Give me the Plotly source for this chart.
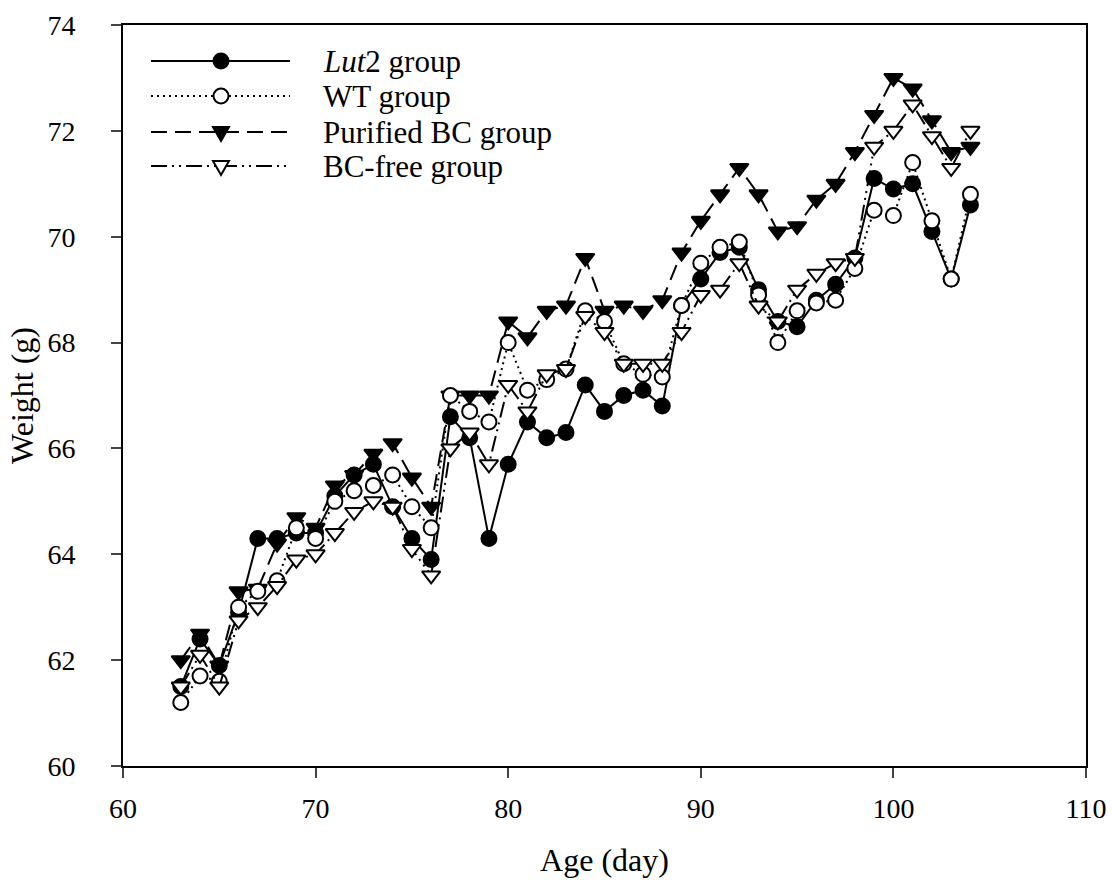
import plotly.graph_objects as go

days = list(range(63, 105))

lut2 = [61.5, 62.4, 61.9, 62.9, 64.3, 64.3, 64.4, 64.4, 65.1, 65.5, 65.7, 64.9, 64.3, 63.9,
        66.6, 66.2, 64.3, 65.7, 66.5, 66.2, 66.3, 67.2, 66.7, 67.0, 67.1, 66.8, 68.7, 69.2,
        69.7, 69.8, 69.0, 68.4, 68.3, 68.8, 69.1, 69.6, 71.1, 70.9, 71.0, 70.1, 69.2, 70.6]
wt = [61.2, 61.7, 61.6, 63.0, 63.3, 63.5, 64.5, 64.3, 65.0, 65.2, 65.3, 65.5, 64.9, 64.5,
      67.0, 66.7, 66.5, 68.0, 67.1, 67.3, 67.5, 68.6, 68.4, 67.6, 67.4, 67.35, 68.7, 69.5,
      69.8, 69.9, 68.9, 68.0, 68.6, 68.75, 68.8, 69.4, 70.5, 70.4, 71.4, 70.3, 69.2, 70.8]
purified = [62.0, 62.5, 61.9, 63.3, 63.35, 64.2, 64.7, 64.5, 65.3, 65.5, 65.9, 66.1, 65.45, 64.9,
            67.0, 67.0, 67.0, 68.4, 68.1, 68.6, 68.7, 69.6, 68.6, 68.7, 68.6, 68.8, 69.7, 70.3,
            70.8, 71.3, 70.8, 70.1, 70.2, 70.7, 71.0, 71.6, 72.3, 73.0, 72.8, 72.2, 71.6, 71.7]
bcfree = [61.5, 62.1, 61.5, 62.75, 63.0, 63.4, 63.9, 64.0, 64.4, 64.8, 65.0, 64.9, 64.1, 63.6,
          66.0, 66.3, 65.7, 67.2, 66.7, 67.4, 67.5, 68.5, 68.2, 67.6, 67.6, 67.6, 68.2, 68.9,
          69.0, 69.5, 68.7, 68.4, 69.0, 69.3, 69.5, 69.6, 71.7, 72.0, 72.5, 71.9, 71.3, 72.0]

series_names = ["<i>Lut</i>2 group", "WT group", "Purified BC group", "BC-free group"]
x_ticks = [60, 70, 80, 90, 100, 110]
y_ticks = [60, 62, 64, 66, 68, 70, 72, 74]

FONT = "Liberation Serif, Times New Roman, serif"
DOT = "2px,4px"
DASH = "16px,8px"
DASHDOTDOT = "16px,5px,2px,5px,2px,5px"
LW = 2

styles = [
    dict(y=lut2, dash="solid", symbol="circle", fill="black"),
    dict(y=purified, dash=DASH, symbol="triangle-down", fill="black"),
    dict(y=wt, dash=DOT, symbol="circle", fill="white"),
    dict(y=bcfree, dash=DASHDOTDOT, symbol="triangle-down", fill="white"),
]
order_names = [series_names[0], series_names[2], series_names[1], series_names[3]]

fig = go.Figure()
for st, nm in zip(styles, order_names):
    fig.add_trace(go.Scatter(
        x=days, y=st["y"], name=nm, mode="lines+markers",
        line=dict(color="black", width=LW, dash=st["dash"]),
        marker=dict(symbol=st["symbol"], size=15 if st["symbol"] == "circle" else 16,
                    color=st["fill"], line=dict(color="black", width=LW)),
        showlegend=False,
    ))

# custom legend (long line samples as in the original)
W, H = 1112, 885
L, R, T, B = 123, 26, 25, 119
pw, ph = W - L - R, H - T - B

def px_x(px):
    return (px - L) / pw

def px_y(py):
    return (H - B - py) / ph

legend_rows = [
    (series_names[0], "solid", "circle", "black"),
    (series_names[1], DOT, "circle", "white"),
    (series_names[2], DASH, "tri", "black"),
    (series_names[3], DASHDOTDOT, "tri", "white"),
]
row_y = [61, 96, 132, 166]
shapes = []
annotations = []
for (nm, dash, sym, fill), ry in zip(legend_rows, row_y):
    shapes.append(dict(type="line", xref="paper", yref="paper",
                       x0=px_x(151), x1=px_x(290), y0=px_y(ry), y1=px_y(ry),
                       line=dict(color="black", width=LW, dash=dash)))
    if sym == "circle":
        shapes.append(dict(type="circle", xref="paper", yref="paper",
                           xsizemode="pixel", ysizemode="pixel",
                           xanchor=px_x(221), yanchor=px_y(ry),
                           x0=-7.5, x1=7.5, y0=-7.5, y1=7.5,
                           fillcolor=fill, line=dict(color="black", width=LW)))
    else:
        shapes.append(dict(type="path", xref="paper", yref="paper",
                           xsizemode="pixel", ysizemode="pixel",
                           xanchor=px_x(221), yanchor=px_y(ry),
                           path="M-8,5 L8,5 L0,-9 Z",
                           fillcolor=fill, line=dict(color="black", width=LW)))
    annotations.append(dict(text=nm, xref="paper", yref="paper",
                            x=px_x(321), y=px_y(ry), xanchor="left", yanchor="middle",
                            showarrow=False, font=dict(family=FONT, size=31, color="black")))

fig.update_layout(
    width=W, height=H,
    margin=dict(l=L, r=R, t=T, b=B, autoexpand=False),
    paper_bgcolor="white", plot_bgcolor="white",
    font=dict(family=FONT, color="black"),
    shapes=shapes, annotations=annotations,
    xaxis=dict(range=[60, 110], tickvals=x_ticks, ticks="outside", ticklen=10, tickwidth=1.5,
               showline=True, linecolor="black", linewidth=2, mirror=True, automargin=False,
               showgrid=False, zeroline=False, tickfont=dict(family=FONT, size=28),
               ticklabelstandoff=6,
               title=dict(text="Age (day)", font=dict(family=FONT, size=32), standoff=26)),
    yaxis=dict(range=[60, 74], tickvals=y_ticks, ticks="outside", ticklen=10, tickwidth=1.5,
               showline=True, linecolor="black", linewidth=2, mirror=True, automargin=False,
               showgrid=False, zeroline=False, tickfont=dict(family=FONT, size=28),
               ticklabelstandoff=30,
               title=dict(text="Weight (g)", font=dict(family=FONT, size=32), standoff=4)),
)

fig.write_html("out.html", config={"displayModeBar": False},
               post_script="document.body.style.margin='0';")
